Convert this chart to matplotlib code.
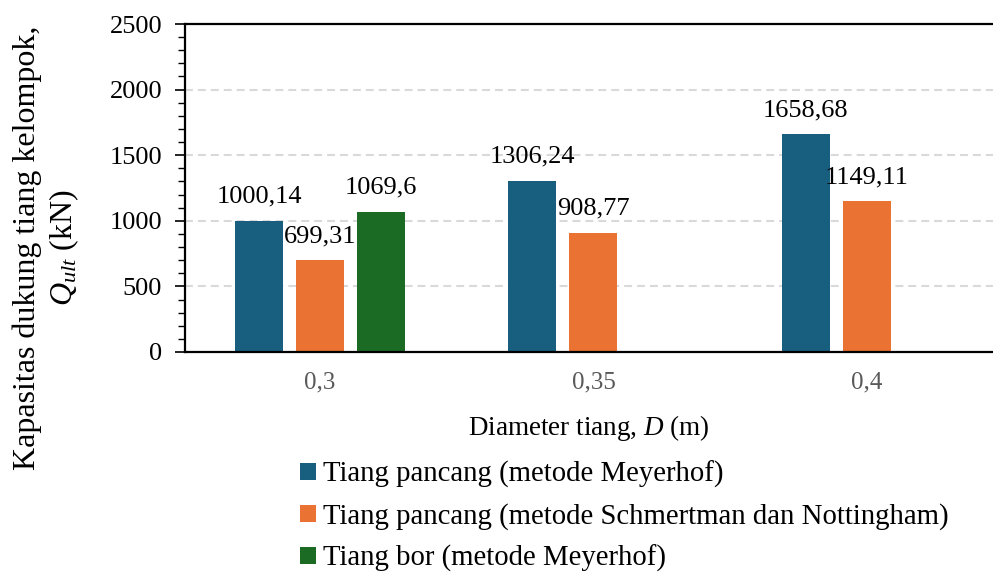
import numpy as np
import matplotlib
matplotlib.use("Agg")
import matplotlib.pyplot as plt
from matplotlib.ticker import MultipleLocator

plt.rcParams['font.family'] = ['Liberation Serif', 'DejaVu Serif']
plt.rcParams['mathtext.fontset'] = 'custom'
plt.rcParams['mathtext.it'] = 'Liberation Serif:italic'
plt.rcParams['mathtext.rm'] = 'Liberation Serif'

# data
diameters = ['0,3', '0,35', '0,4']
pancang_meyerhof = [1000.14, 1306.24, 1658.68]
pancang_schmertman = [699.31, 908.77, 1149.11]
bor_meyerhof = [1069.6]          # only for D = 0,3
series_names = ['Tiang pancang (metode Meyerhof)',
                'Tiang pancang (metode Schmertman dan Nottingham)',
                'Tiang bor (metode Meyerhof)']
colors = ['#175E7F', '#EA7232', '#1B6B24']

def fmt(v):
    s = ('%.2f' % v).rstrip('0').rstrip('.')
    return s.replace('.', ',')

fig = plt.figure(figsize=(9.93, 5.73), dpi=100)
ax = fig.add_axes([0.1863, 0.3857, 0.8137, 0.5724])

x = np.arange(len(diameters))
w = 0.1755
step = 0.223
all_series = [pancang_meyerhof, pancang_schmertman, bor_meyerhof]
handles = []
for i, vals in enumerate(all_series):
    xs = x[:len(vals)] + (i - 1) * step
    b = ax.bar(xs, vals, width=w, color=colors[i], label=series_names[i])
    handles.append(b)
    for xi, v in zip(xs, vals):
        ax.annotate(fmt(v), (xi, v), xytext=(0, 13), textcoords='offset points',
                    ha='center', va='baseline', fontsize=19)

ax.set_xlim(-0.4936, 2.461)
ax.set_ylim(0, 2500)
ax.yaxis.set_major_locator(MultipleLocator(500))
ax.yaxis.set_minor_locator(MultipleLocator(100))
ax.set_xticks(x)
ax.set_xticklabels(diameters, color='#595959', fontsize=18)
ax.tick_params(axis='x', length=0, pad=14)
ax.tick_params(axis='y', which='major', length=7, width=1.2, labelsize=19, pad=9.5)
ax.tick_params(axis='y', which='minor', length=5, width=1.0)

ax.grid(axis='y', color='#d9d9d9', linestyle=(0, (3.8, 2.4)), linewidth=1.5)
ax.set_axisbelow(True)
for s in ['left', 'top', 'bottom']:
    ax.spines[s].set_linewidth(1.6)
    ax.spines[s].set_color('black')
ax.spines['right'].set_visible(False)

ax.set_xlabel('Diameter tiang, $D$ (m)', fontsize=19.5, labelpad=14)
fig.text(0.047, 0.567, 'Kapasitas dukung tiang kelompok,\n$Q_{ult}$ (kN)',
         rotation=90, ha='center', va='center', ma='center', fontsize=23)

fig.legend(handles=handles, loc='upper left', bbox_to_anchor=(0.302, 0.196),
           frameon=False, fontsize=20.7, handlelength=0.55, handleheight=0.55,
           handletextpad=0.25, labelspacing=0.52, borderaxespad=0, borderpad=0)

fig.savefig('out.png', dpi=100)
